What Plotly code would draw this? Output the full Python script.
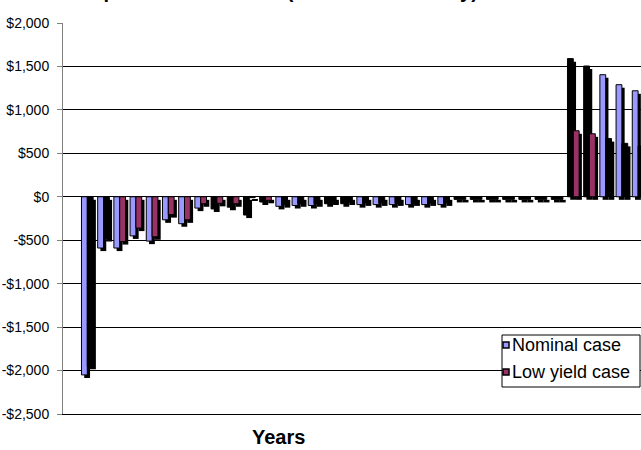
import plotly.graph_objects as go

# ---- data -------------------------------------------------------------
years = list(range(1, 36))
nominal = [-2050, -590, -590, -450, -510, -265, -310, -130, -140, -120,
           -210, -60, -110, -100, -100, -80, -80, -90, -90, -90,
           -90, -90, -90, -30, -30, -30, -30, -30, -30, -30,
           1590, 1505, 1405, 1290, 1220]
low_yield = [-1950, -480, -515, -360, -460, -205, -265, -80, -75, -80,
             -10, -40, -90, -80, -80, -60, -60, -70, -70, -70,
             -70, -70, -70, -30, -30, -30, -30, -30, -30, -30,
             760, 725, 670, 615, 585]
y_tick_values = [2000, 1500, 1000, 500, 0, -500, -1000, -1500, -2000, -2500]
y_tick_labels = ["$2,000", "$1,500", "$1,000", "$500", "$0", "-$500",
                 "-$1,000", "-$1,500", "-$2,000", "-$2,500"]

# ---- style ------------------------------------------------------------
BLUE, PLUM, INK = "#9999FF", "#993366", "#000000"
nominal_fill = [BLUE] * 8 + [INK] * 4 + [BLUE] * 3 + [INK] * 2 + [BLUE] * 6 + [INK] * 9 + [BLUE] * 3
low_fill = [INK] * 2 + [PLUM] * 8 + [INK] + [PLUM] + [INK] * 18 + [PLUM] * 2 + [INK] * 3

FONT = "Liberation Sans, Arial, sans-serif"
W = 0.36          # bar width (category units)
SHIFT_X = 0.17    # shadow offset to the right
SHIFT_Y = 35      # shadow offset downward (value units)

# plot-area geometry in pixels
L, T, R, B = 63, 23, 641, 414
PW, PH = R - L, B - T


def px(x):
    return (x - L) / PW


def py(y):
    return (B - y) / PH


fig = go.Figure()

# drop shadows
for vals, off in ((nominal, -W + SHIFT_X), (low_yield, SHIFT_X)):
    fig.add_trace(go.Bar(
        x=years, y=vals, base=[-SHIFT_Y] * len(vals), width=W, offset=off,
        marker=dict(color=INK, line=dict(width=0)),
        showlegend=False, hoverinfo="skip"))

# series bars
fig.add_trace(go.Bar(
    name="Nominal case", x=years, y=nominal, width=W, offset=-W,
    marker=dict(color=nominal_fill, line=dict(color=INK, width=1)),
    showlegend=False))
fig.add_trace(go.Bar(
    name="Low yield case", x=years, y=low_yield, width=W, offset=0,
    marker=dict(color=low_fill, line=dict(color=INK, width=1)),
    showlegend=False))

# legend box drawn as shapes + text
shapes = [
    dict(type="rect", xref="paper", yref="paper", layer="above",
         x0=px(502), x1=px(640), y0=py(387), y1=py(335),
         fillcolor="white", line=dict(color=INK, width=1)),
    dict(type="rect", xref="paper", yref="paper", layer="above",
         x0=px(503), x1=px(509), y0=py(348), y1=py(342),
         fillcolor=BLUE, line=dict(color=INK, width=1.5)),
    dict(type="rect", xref="paper", yref="paper", layer="above",
         x0=px(503), x1=px(509), y0=py(375), y1=py(369),
         fillcolor=PLUM, line=dict(color=INK, width=1.5)),
]
annotations = [
    dict(text="Nominal case", xref="paper", yref="paper", x=px(510), y=py(345),
         xanchor="left", yanchor="middle", showarrow=False,
         font=dict(family=FONT, size=18, color=INK)),
    dict(text="Low yield case", xref="paper", yref="paper", x=px(510), y=py(372),
         xanchor="left", yanchor="middle", showarrow=False,
         font=dict(family=FONT, size=18, color=INK)),
    dict(text="<b>Years</b>", xref="paper", yref="paper", x=px(278), y=py(437),
         xanchor="center", yanchor="middle", showarrow=False,
         font=dict(family=FONT, size=20, color=INK)),
    dict(text="<b>Comparison of Returns (Discounted Money)</b>", xref="paper", yref="paper",
         x=px(57), y=py(-9), xanchor="left", yanchor="middle", showarrow=False,
         font=dict(family=FONT, size=20, color=INK)),
]

fig.update_layout(
    width=641, height=450,
    margin=dict(l=L, r=641 - R, t=T, b=450 - B, pad=0),
    paper_bgcolor="white", plot_bgcolor="white",
    barmode="overlay",
    font=dict(family=FONT, size=14, color=INK),
    shapes=shapes, annotations=annotations,
    showlegend=False,
)
fig.update_xaxes(
    range=[-0.5, -0.5 + PW / 16.2], showticklabels=False, ticks="",
    showgrid=False, zeroline=False, showline=True, linecolor=INK, linewidth=1,
)
fig.update_yaxes(
    range=[-2500, 2000], tickvals=y_tick_values, ticktext=y_tick_labels,
    ticks="outside", ticklen=5, tickcolor="#808080", ticklabelstandoff=5,
    showgrid=True, gridcolor=INK, gridwidth=1,
    zeroline=True, zerolinecolor=INK, zerolinewidth=1,
    showline=True, linecolor="#808080", linewidth=1,
    tickfont=dict(family=FONT, size=14, color=INK),
)

fig.write_html("out.html")
